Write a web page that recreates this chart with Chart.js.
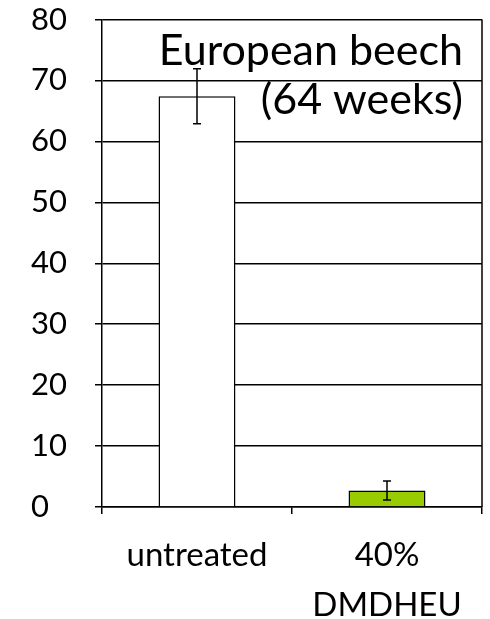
<!DOCTYPE html>
<html>
<head>
<meta charset="utf-8">
<script src="https://cdn.jsdelivr.net/npm/chart.js@4/dist/chart.umd.min.js"></script>
<style>
  html, body { margin: 0; padding: 0; background: #fff; }
  #wrap { width: 490px; height: 619px; }
</style>
</head>
<body>
<div id="wrap"><canvas id="c" width="490" height="619"></canvas></div>
<script>
// Mass loss of European beech after 64 weeks
const categories = ['untreated', ['40%', 'DMDHEU']];
const values = [67.4, 2.7];
const errors = [4.5, 1.55];
const barColors = ['#ffffff', '#99cc00'];
const yTicks = [0, 10, 20, 30, 40, 50, 60, 70, 80];
const titleLines = ['European beech', '(64 weeks)'];

const FONT = "Lato, 'Open Sans', sans-serif";

// error bars with caps, drawn on top of each bar
const errorBars = {
  id: 'errorBars',
  afterDatasetsDraw(chart) {
    const meta = chart.getDatasetMeta(0);
    const y = chart.scales.y;
    const ctx = chart.ctx;
    ctx.save();
    ctx.strokeStyle = '#000';
    ctx.lineWidth = 1.5;
    meta.data.forEach((bar, i) => {
      const top = y.getPixelForValue(values[i] + errors[i]);
      const bot = y.getPixelForValue(values[i] - errors[i]);
      const cap = 4;
      ctx.beginPath();
      ctx.moveTo(bar.x, top); ctx.lineTo(bar.x, bot);
      ctx.moveTo(bar.x - cap, top); ctx.lineTo(bar.x + cap, top);
      ctx.moveTo(bar.x - cap, bot); ctx.lineTo(bar.x + cap, bot);
      ctx.stroke();
    });
    ctx.restore();
  }
};

// right frame line and the in-plot caption
const frameAndCaption = {
  id: 'frameAndCaption',
  afterDraw(chart) {
    const a = chart.chartArea;
    const ctx = chart.ctx;
    ctx.save();
    ctx.strokeStyle = '#000';
    ctx.lineWidth = 1.5;
    ctx.beginPath();
    ctx.moveTo(a.right, a.top);
    ctx.lineTo(a.right, a.bottom);
    ctx.stroke();
    ctx.fillStyle = '#000';
    ctx.font = "43px " + FONT;
    ctx.textAlign = 'right';
    ctx.textBaseline = 'alphabetic';
    ctx.fillText(titleLines[0], a.right - 19, a.top + 45);
    ctx.fillText(titleLines[1], a.right - 19, a.top + 94);
    ctx.restore();
  }
};

new Chart(document.getElementById('c'), {
  type: 'bar',
  data: {
    labels: categories,
    datasets: [{
      data: values,
      backgroundColor: barColors,
      borderColor: '#000',
      borderWidth: 1.5,
      barPercentage: 0.405,
      categoryPercentage: 1.0
    }]
  },
  options: {
    responsive: false,
    animation: false,
    devicePixelRatio: 1,
    layout: { padding: { left: 31, right: 8, top: 18, bottom: 0 } },
    plugins: {
      legend: { display: false },
      tooltip: { enabled: false },
      title: { display: false }
    },
    scales: {
      x: {
        offset: true,
        grid: {
          offset: true,
          drawOnChartArea: false,
          drawTicks: true,
          tickLength: 7,
          color: '#000',
          lineWidth: 1.5
        },
        border: { display: true, color: '#000', width: 1.5 },
        ticks: {
          color: '#000',
          font: { family: FONT, size: 33, lineHeight: 1.5 },
          padding: 17,
          maxRotation: 0,
          autoSkip: false
        },
        afterFit(s) { s.height = 112; }
      },
      y: {
        min: 0,
        max: 80,
        afterBuildTicks(s) { s.ticks = yTicks.map(v => ({ value: v })); },
        grid: {
          color: '#000',
          lineWidth: 1.5,
          tickLength: 7,
          drawTicks: true
        },
        border: { display: true, color: '#000', width: 1.5 },
        ticks: {
          color: '#000',
          font: { family: FONT, size: 31, lineHeight: 1.0 },
          crossAlign: 'far',
          padding: 4
        },
        afterFit(s) { s.width = 71; }
      }
    }
  },
  plugins: [errorBars, frameAndCaption]
});
</script>
</body>
</html>
